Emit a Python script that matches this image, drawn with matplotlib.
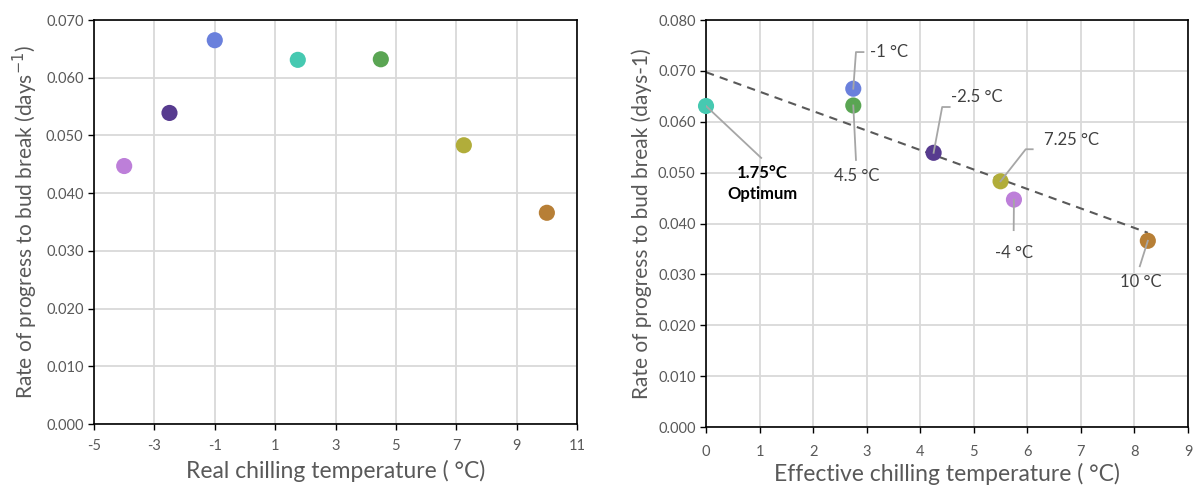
import numpy as np
import matplotlib
matplotlib.use("Agg")
import matplotlib.pyplot as plt

plt.rcParams['font.family'] = ['Lato', 'DejaVu Sans']
plt.rcParams['axes.unicode_minus'] = False

# data
real_temp = [-4, -2.5, -1, 1.75, 4.5, 7.25, 10]
rate = [0.0447, 0.0539, 0.0665, 0.0631, 0.0632, 0.0483, 0.0366]
eff_temp = [5.75, 4.25, 2.75, 0.0, 2.75, 5.5, 8.25]
colors = ['#bd7fd9', '#573b8f', '#6a80dc', '#46c9b1', '#5aa553', '#b1ad3a', '#b77f36']
labels = ['-4 °C', '-2.5 °C', '-1 °C', '1.75°C\nOptimum', '4.5 °C', '7.25 °C', '10 °C']

# label placement on the right chart: (text x, text y, ha, elbow points)
label_pos = {
    '-1 °C': (3.07, 0.0737, 'left', [(2.80, 0.0737), (2.94, 0.0737)]),
    '4.5 °C': (2.81, 0.0510, 'center', [(2.80, 0.0525)]),
    '1.75°C\nOptimum': (1.05, 0.0515, 'center', [(1.03, 0.0529)]),
    '-2.5 °C': (4.57, 0.0649, 'left', [(4.41, 0.0629), (4.55, 0.0629)]),
    '7.25 °C': (6.32, 0.0564, 'left', [(5.97, 0.0546), (6.10, 0.0546)]),
    '-4 °C': (5.745, 0.0358, 'center', [(5.745, 0.0387)]),
    '10 °C': (8.12, 0.0300, 'center', [(8.10, 0.0316)]),
}

txt = '#595959'
grid = '#d9d9d9'

fig = plt.figure(figsize=(11.93, 4.92), dpi=100)
ax1 = fig.add_axes([0.0788, 0.1382, 0.4049, 0.8211])
ax2 = fig.add_axes([0.5918, 0.1321, 0.4040, 0.8272])


def style(ax):
    ax.grid(True, color=grid, linewidth=1.3)
    ax.set_axisbelow(True)
    for s in ax.spines.values():
        s.set_color('black')
        s.set_linewidth(1.2)
    ax.tick_params(axis='both', colors='black', labelcolor=txt, labelsize=10.5,
                   length=4, width=1)
    ax.tick_params(axis='x', pad=7)


ax1.scatter(real_temp, rate, s=135, c=colors, edgecolors='none', zorder=3)
ax1.set_xlim(-5, 11)
ax1.set_ylim(0, 0.07)
ax1.set_xticks(np.arange(-5, 12, 2))
ax1.set_yticks(np.arange(0, 0.0701, 0.01))
ax1.yaxis.set_major_formatter(plt.FuncFormatter(lambda v, p: f'{v:.3f}'))
style(ax1)
ax1.set_xlabel('Real chilling temperature ( °C)', fontsize=16.5, color=txt, labelpad=5)
ax1.set_ylabel('Rate of progress to bud break (days$^{\\mathsf{-1}}$)', fontsize=15,
               color=txt, labelpad=4)

# trend line from a linear fit of the effective data
k, b = np.polyfit(eff_temp, rate, 1)
xs = np.array([0, max(eff_temp)])
ax2.plot(xs, k * xs + b, '--', color='#595959', linewidth=1.5, dashes=(4, 3), zorder=2)
ax2.scatter(eff_temp, rate, s=135, c=colors, edgecolors='none', zorder=3, clip_on=False)

for x, y, lab in zip(eff_temp, rate, labels):
    tx, ty, ha, pts = label_pos[lab]
    px = [x] + [p[0] for p in pts]
    py = [y] + [p[1] for p in pts]
    ax2.plot(px, py, color='#a6a6a6', linewidth=1.3, zorder=4)
    bold = 'Optimum' in lab
    va = 'top' if ha == 'center' else 'center'
    ax2.text(tx, ty, lab, ha=ha, va=va, fontsize=12,
             color='black' if bold else '#404040',
             fontweight='bold' if bold else 'normal', linespacing=1.4)

ax2.set_xlim(0, 9)
ax2.set_ylim(0, 0.08)
ax2.set_xticks(np.arange(0, 10, 1))
ax2.set_yticks(np.arange(0, 0.0801, 0.01))
ax2.yaxis.set_major_formatter(plt.FuncFormatter(lambda v, p: f'{v:.3f}'))
style(ax2)
ax2.tick_params(axis='x', pad=9)
ax2.set_xlabel('Effective chilling temperature ( °C)', fontsize=16.5, color=txt, labelpad=3)
ax2.set_ylabel('Rate of progress to bud break (days-1)', fontsize=15, color=txt, labelpad=4)

fig.savefig('out.png', dpi=100)
